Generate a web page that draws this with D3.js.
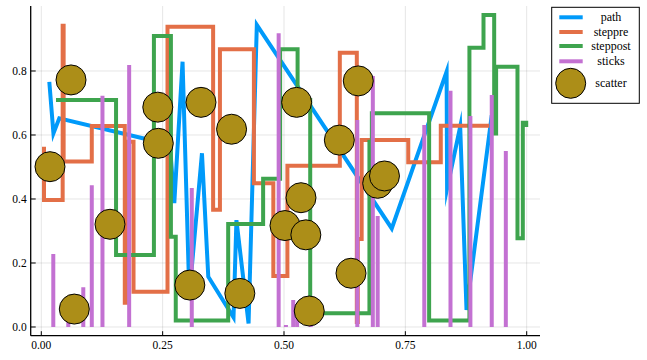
<!DOCTYPE html>
<html>
<head>
<meta charset="utf-8">
<script src="https://cdn.jsdelivr.net/npm/d3@7"></script>
<style>
  html, body { margin: 0; padding: 0; background: #fff; }
  svg { display: block; }
  text { font-family: "Liberation Serif", "DejaVu Serif", serif; fill: #000; }
</style>
</head>
<body>
<svg id="chart" width="647" height="360"></svg>
<script>
// ---- data ----
const seriesNames = ["path", "steppre", "steppost", "sticks", "scatter"];
const seriesColors = ["#009AFA", "#E36F47", "#3EA44E", "#C371D2", "#AC8E18"];

const pathX = [0.0165, 0.025, 0.037, 0.222, 0.265, 0.274, 0.291, 0.305, 0.331, 0.344, 0.396, 0.402, 0.427, 0.444, 0.722, 0.835, 0.836, 0.863, 0.876, 0.928];
const pathY = [0.766, 0.605, 0.652, 0.585, 0.570, 0.387, 0.829, 0.100, 0.543, 0.157, 0.030, 0.334, 0.011, 0.944, 0.308, 0.798, 0.433, 0.626, 0.053, 0.662];

const stepPreX = [0.0056, 0.044, 0.046, 0.104, 0.172, 0.175, 0.190, 0.260, 0.354, 0.368, 0.438, 0.478, 0.507, 0.615, 0.650, 0.652, 0.660, 0.756, 0.823, 0.923];
const stepPreY = [0.563, 0.397, 0.941, 0.517, 0.628, 0.076, 0.579, 0.110, 0.938, 0.366, 0.868, 0.449, 0.159, 0.504, 0.857, 0.016, 0.275, 0.584, 0.515, 0.629];

const stepPostX = [0.0303, 0.154, 0.232, 0.267, 0.277, 0.385, 0.457, 0.492, 0.528, 0.554, 0.676, 0.681, 0.799, 0.882, 0.911, 0.933, 0.937, 0.981, 0.992, 0.999];
const stepPostY = [0.709, 0.225, 0.909, 0.282, 0.020, 0.322, 0.463, 0.868, 0.709, 0.043, 0.579, 0.668, 0.020, 0.873, 0.975, 0.605, 0.813, 0.277, 0.638, 0.625];

const sticksX = [0.0247, 0.0556, 0.0865, 0.104, 0.126, 0.181, 0.310, 0.489, 0.504, 0.519, 0.527, 0.651, 0.683, 0.693, 0.789, 0.843, 0.884, 0.928, 0.957, 0.555];
const sticksY = [0.228, 0.017, 0.124, 0.443, 0.723, 0.819, 0.434, 0.918, 0.006, 0.084, 0.072, 0.647, 0.784, 0.347, 0.631, 0.738, 0.659, 0.725, 0.550, 0.030];

const scatterX = [0.0179, 0.0612, 0.068, 0.1415, 0.240, 0.241, 0.306, 0.329, 0.392, 0.409, 0.502, 0.526, 0.535, 0.545, 0.552, 0.614, 0.638, 0.653, 0.693, 0.707];
const scatterY = [0.501, 0.772, 0.056, 0.321, 0.687, 0.574, 0.131, 0.702, 0.618, 0.105, 0.317, 0.702, 0.404, 0.288, 0.050, 0.584, 0.168, 0.769, 0.449, 0.472];

const xTicks = [0, 0.25, 0.5, 0.75, 1.0];
const xTickLabels = ["0.00", "0.25", "0.50", "0.75", "1.00"];
const yTicks = [0, 0.2, 0.4, 0.6, 0.8];
const yTickLabels = ["0.0", "0.2", "0.4", "0.6", "0.8"];

// ---- layout ----
const svg = d3.select("#chart");
const plotLeft = 30.7, plotRight = 540, plotTop = 6, plotBottom = 335.7;

const x = d3.scaleLinear().domain([-0.02184, 1.0274]).range([plotLeft, plotRight]);
const y = d3.scaleLinear().domain([-0.0272, 1.0031]).range([plotBottom, plotTop]);

const zip = (xs, ys) => xs.map((v, i) => [v, ys[i]]);

// grid
const grid = svg.append("g");
grid.selectAll("line.gx").data(xTicks).enter().append("line")
  .attr("x1", d => x(d)).attr("x2", d => x(d))
  .attr("y1", plotTop).attr("y2", plotBottom)
  .attr("stroke", "#000").attr("stroke-opacity", 0.1).attr("stroke-width", 1);
grid.selectAll("line.gy").data(yTicks).enter().append("line")
  .attr("x1", plotLeft).attr("x2", plotRight)
  .attr("y1", d => y(d)).attr("y2", d => y(d))
  .attr("stroke", "#000").attr("stroke-opacity", 0.1).attr("stroke-width", 1);

const lw = 4;
const clip = svg.append("clipPath").attr("id", "clip").append("rect")
  .attr("x", plotLeft).attr("y", plotTop).attr("width", plotRight - plotLeft).attr("height", plotBottom - plotTop);
const plot = svg.append("g").attr("clip-path", "url(#clip)");

// path
plot.append("path").datum(zip(pathX, pathY))
  .attr("d", d3.line().x(d => x(d[0])).y(d => y(d[1])))
  .attr("fill", "none").attr("stroke", seriesColors[0]).attr("stroke-width", lw)
  .attr("stroke-linejoin", "miter").attr("stroke-miterlimit", 10);

// steppre
plot.append("path").datum(zip(stepPreX, stepPreY))
  .attr("d", d3.line().curve(d3.curveStepBefore).x(d => x(d[0])).y(d => y(d[1])))
  .attr("fill", "none").attr("stroke", seriesColors[1]).attr("stroke-width", lw);

// steppost
plot.append("path").datum(zip(stepPostX, stepPostY))
  .attr("d", d3.line().curve(d3.curveStepAfter).x(d => x(d[0])).y(d => y(d[1])))
  .attr("fill", "none").attr("stroke", seriesColors[2]).attr("stroke-width", lw);

// sticks
plot.selectAll("line.stick").data(zip(sticksX, sticksY)).enter().append("line")
  .attr("x1", d => x(d[0])).attr("x2", d => x(d[0]))
  .attr("y1", y(0)).attr("y2", d => y(d[1]))
  .attr("stroke", seriesColors[3]).attr("stroke-width", lw);

// scatter
plot.selectAll("circle.pt").data(zip(scatterX, scatterY)).enter().append("circle")
  .attr("cx", d => x(d[0])).attr("cy", d => y(d[1])).attr("r", 15)
  .attr("fill", seriesColors[4]).attr("stroke", "#000").attr("stroke-width", 1);

// axes spines
svg.append("line").attr("x1", plotLeft).attr("x2", plotLeft).attr("y1", plotTop).attr("y2", plotBottom)
  .attr("stroke", "#000").attr("stroke-width", 1.3);
svg.append("line").attr("x1", plotLeft).attr("x2", plotRight).attr("y1", plotBottom).attr("y2", plotBottom)
  .attr("stroke", "#000").attr("stroke-width", 1.3);

// ticks (inward)
svg.selectAll("line.tx").data(xTicks).enter().append("line")
  .attr("x1", d => x(d)).attr("x2", d => x(d))
  .attr("y1", plotBottom).attr("y2", plotBottom - 4.5)
  .attr("stroke", "#000").attr("stroke-width", 1);
svg.selectAll("line.ty").data(yTicks).enter().append("line")
  .attr("x1", plotLeft).attr("x2", plotLeft + 5)
  .attr("y1", d => y(d)).attr("y2", d => y(d))
  .attr("stroke", "#000").attr("stroke-width", 1);

svg.selectAll("text.xl").data(xTicks).enter().append("text")
  .attr("x", d => x(d)).attr("y", 349)
  .attr("text-anchor", "middle").attr("font-size", "11.5px")
  .text((d, i) => xTickLabels[i]);
svg.selectAll("text.yl").data(yTicks).enter().append("text")
  .attr("x", 26.7).attr("y", d => y(d) + 3.6)
  .attr("text-anchor", "end").attr("font-size", "11.5px")
  .text((d, i) => yTickLabels[i]);

// legend
const leg = svg.append("g");
leg.append("rect").attr("x", 551.7).attr("y", 7.3).attr("width", 87.6).attr("height", 96)
  .attr("fill", "#fff").attr("stroke", "#000").attr("stroke-width", 1);
const rowY = [17.3, 32, 46, 61.3, 83.3];
seriesNames.forEach((name, i) => {
  if (i < 4) {
    leg.append("line").attr("x1", 559.3).attr("x2", 582.7).attr("y1", rowY[i]).attr("y2", rowY[i])
      .attr("stroke", seriesColors[i]).attr("stroke-width", lw);
  } else {
    leg.append("circle").attr("cx", 570.7).attr("cy", rowY[i]).attr("r", 15)
      .attr("fill", seriesColors[i]).attr("stroke", "#000").attr("stroke-width", 1);
  }
  leg.append("text").attr("x", 611).attr("y", rowY[i] + 4)
    .attr("text-anchor", "middle").attr("font-size", "12px").text(name);
});
</script>
</body>
</html>
